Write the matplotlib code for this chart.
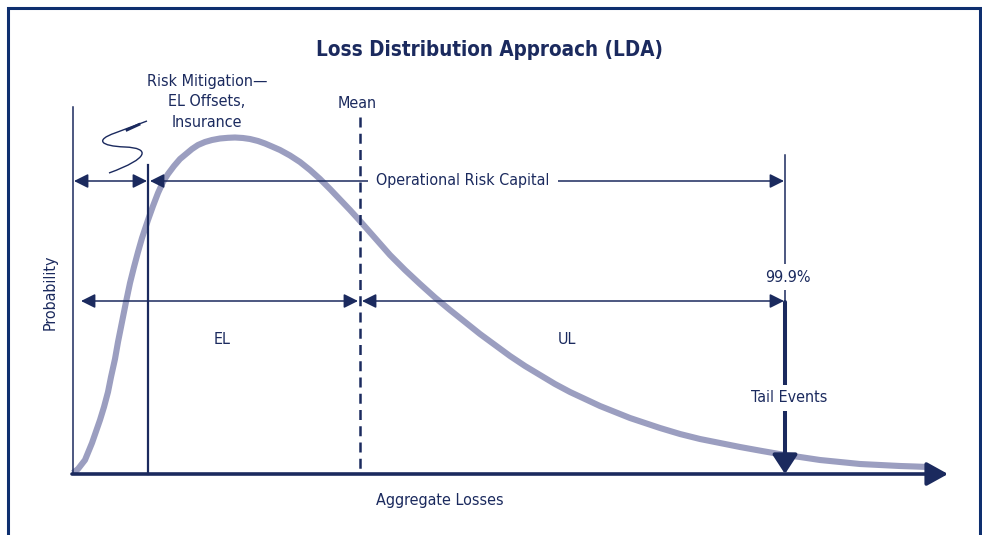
import matplotlib.pyplot as plt
from matplotlib.path import Path
from matplotlib.patches import PathPatch

plt.rcParams['font.family'] = ['DejaVu Sans']
plt.rcParams['font.stretch'] = 'condensed'

NAVY = '#1b2a5e'
FRAME = '#0e2f6f'
CURVE = '#9b9ec0'

# loss distribution curve (x = losses, y = height, pixel-like units)
curve_x = [73, 78, 85, 92, 100, 104, 108, 111, 115, 118, 122, 126, 130, 134, 138, 142,
           148, 153, 158, 163, 168, 174, 180, 186, 192, 198, 205, 212, 220, 228, 235,
           243, 250, 258, 265, 272, 280, 290, 300, 310, 320, 330, 340, 350, 360, 375,
           390, 405, 420, 435, 450, 465, 480, 495, 510, 525, 540, 555, 570, 585, 600,
           615, 630, 645, 660, 680, 700, 720, 740, 762, 785, 800, 820, 840, 860, 880,
           900, 915, 928]
curve_y = [473, 469, 460, 443, 420, 407, 392, 377, 359, 342, 322, 302, 283, 267, 252, 238,
           220, 206, 193, 182, 174, 166, 159, 154, 149, 145, 142, 140, 138.5, 137.8, 137.5,
           138, 139, 141, 143.5, 146.5, 150, 155.5, 162, 170, 179, 189, 199.5, 210, 221, 238,
           255, 270, 284, 297.5, 310, 322, 334, 345, 356, 366, 375, 384, 392, 399, 406,
           412, 418, 423, 428, 434, 439, 443, 447, 451, 455, 457, 460, 462, 464, 465,
           466, 466.5, 467]

# key positions on the losses axis
x_origin = 73
x_mitigation = 148
x_mean = 360
x_var = 785
x_end = 948
y_base = 474

# squiggle (insurance) path points
squiggle = [(147, 121), (115, 133), (95, 140), (100, 146), (125, 147),
            (150, 148), (150, 158), (109, 173)]

fig = plt.figure(figsize=(9.82, 5.35), dpi=100)
ax = fig.add_axes([0, 0, 1, 1])
ax.set_xlim(0, 982)
ax.set_ylim(535, 0)
ax.axis('off')

# frame (no bottom edge)
ax.plot([8, 8, 980, 980], [535, 8, 8, 535], color=FRAME, lw=2.2, solid_joinstyle='miter')

ax.text(490, 50, 'Loss Distribution Approach (LDA)', ha='center', va='center',
        fontsize=14.8, fontweight='bold', color=NAVY)

# curve
ax.plot(curve_x, curve_y, color=CURVE, lw=4.4, solid_capstyle='butt',
        solid_joinstyle='round', zorder=2)

# axes
ax.plot([x_origin, x_origin], [107, y_base], color=NAVY, lw=1.1, zorder=3)
ax.annotate('', xy=(x_end, y_base), xytext=(x_origin - 1, y_base),
            arrowprops=dict(arrowstyle='-|>,head_length=1.3,head_width=0.72',
                            mutation_scale=10, lw=2.6, color=NAVY,
                            shrinkA=0, shrinkB=0), zorder=4)

# vertical markers
ax.plot([x_mitigation, x_mitigation], [165, y_base], color=NAVY, lw=1.6, zorder=3)
ax.plot([x_mean, x_mean], [117, y_base], color=NAVY, lw=1.8, ls=(0, (4, 2.5)), zorder=3)
ax.plot([x_var, x_var], [155, 302], color=NAVY, lw=1.1, zorder=3)

arr = dict(arrowstyle='<|-|>,head_length=0.86,head_width=0.43', mutation_scale=10,
           lw=1.1, color=NAVY, shrinkA=0, shrinkB=0)

# operational risk capital arrows
ax.annotate('', xy=(x_origin + 1, 181), xytext=(x_mitigation - 1, 181), arrowprops=arr)
ax.annotate('', xy=(x_mitigation + 2, 181), xytext=(x_var - 1, 181), arrowprops=arr)
ax.text(463, 181, 'Operational Risk Capital', ha='center', va='center', fontsize=11.5,
        color=NAVY, zorder=5,
        bbox=dict(boxstyle='square,pad=0.5', fc='white', ec='none'))

# EL / UL arrows
ax.annotate('', xy=(81, 301), xytext=(x_mean - 2, 301), arrowprops=arr)
ax.annotate('', xy=(x_mean + 2, 301), xytext=(x_var - 1, 301), arrowprops=arr)
ax.text(222, 340, 'EL', ha='center', va='center', fontsize=11.5, color=NAVY)
ax.text(567, 340, 'UL', ha='center', va='center', fontsize=11.5, color=NAVY)

# 99.9% and tail events
ax.text(x_var + 3, 277, '99.9%', ha='center', va='center', fontsize=11.5, color=NAVY,
        zorder=5, bbox=dict(boxstyle='square,pad=0.35', fc='white', ec='none'))
ax.annotate('', xy=(x_var, y_base), xytext=(x_var, 302),
            arrowprops=dict(arrowstyle='-|>,head_length=1.15,head_width=0.75',
                            mutation_scale=10, lw=2.9, color=NAVY,
                            shrinkA=0, shrinkB=0), zorder=4)
ax.text(x_var + 4, 398, 'Tail Events', ha='center', va='center', fontsize=11.5,
        color=NAVY, zorder=5,
        bbox=dict(boxstyle='square,pad=0.35', fc='white', ec='none'))

# labels
ax.text(357, 104, 'Mean', ha='center', va='center', fontsize=11.5, color=NAVY)
ax.text(207, 102, 'Risk Mitigation\u2014\nEL Offsets,\nInsurance', ha='center',
        va='center', fontsize=11.5, color=NAVY, linespacing=1.45)
ax.text(50, 292, 'Probability', ha='center', va='center', rotation=90,
        fontsize=11.5, color=NAVY)
ax.text(440, 500, 'Aggregate Losses', ha='center', va='center', fontsize=11.5,
        color=NAVY)

# squiggle
codes = [Path.MOVETO, Path.LINETO, Path.CURVE4, Path.CURVE4, Path.CURVE4,
         Path.CURVE4, Path.CURVE4, Path.CURVE4]
ax.add_patch(PathPatch(Path(squiggle, codes), fc='none', ec=NAVY, lw=1.0))
ax.plot([squiggle[0][0] - 8, squiggle[0][0] - 20], [124.5, 130], color=NAVY, lw=2.0)

fig.savefig('out.png', dpi=100)
